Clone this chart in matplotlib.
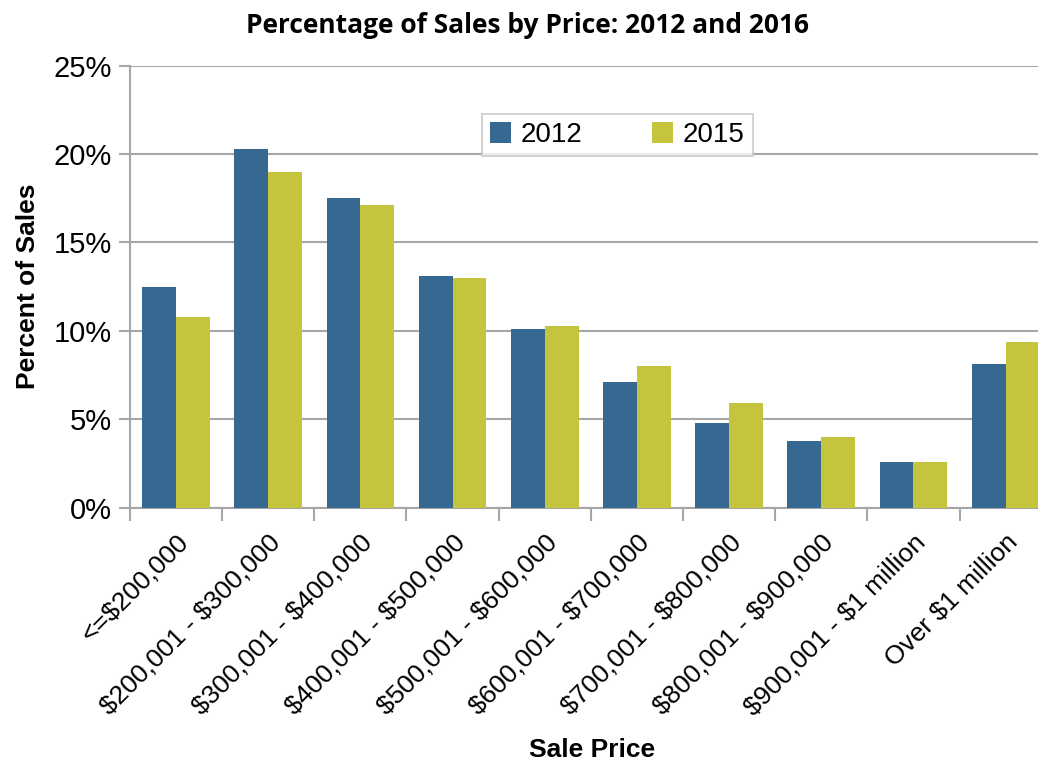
import matplotlib.pyplot as plt
import numpy as np
from matplotlib.ticker import PercentFormatter

plt.rcParams["text.parse_math"] = False

categories = ["<=$200,000", "$200,001 - $300,000", "$300,001 - $400,000",
              "$400,001 - $500,000", "$500,001 - $600,000", "$600,001 - $700,000",
              "$700,001 - $800,000", "$800,001 - $900,000", "$900,001 - $1 million",
              "Over $1 million"]
sales_2012 = [12.5, 20.3, 17.5, 13.1, 10.1, 7.1, 4.8, 3.8, 2.6, 8.1]
sales_2015 = [10.8, 19.0, 17.1, 13.0, 10.3, 8.0, 5.9, 4.0, 2.6, 9.4]

BLUE = "#376892"
GREEN = "#C4C43F"
GRID = "#A6A6A6"
NARROW = ["Liberation Sans Narrow", "Liberation Sans", "DejaVu Sans"]

fig = plt.figure(figsize=(10.38, 7.63), dpi=100)
ax = fig.add_axes([0.1252, 0.3346, 0.888, 0.5793])

x = np.arange(len(categories))
w = 0.367
ax.bar(x + 0.5 - w / 2, sales_2012, width=w, color=BLUE, label="2012", zorder=3)
ax.bar(x + 0.5 + w / 2, sales_2015, width=w, color=GREEN, label="2015", zorder=3)

ax.set_xlim(0, len(categories))
ax.set_ylim(0, 25)
ax.set_yticks([0, 5, 10, 15, 20, 25])
ax.yaxis.set_major_formatter(PercentFormatter(decimals=0))
ax.grid(axis="y", color=GRID, linewidth=1.5, zorder=0)
ax.set_axisbelow(True)

for s in ["top", "right"]:
    ax.spines[s].set_visible(False)
for s in ["left", "bottom"]:
    ax.spines[s].set_color(GRID)
    ax.spines[s].set_linewidth(1.5)

# ticks between categories on x, labels at the centres via minor ticks
ax.set_xticks(np.arange(len(categories) + 1))
ax.set_xticklabels([])
ax.set_xticks(x + 0.5, minor=True)
ax.set_xticklabels(categories, minor=True, rotation=45, ha="right",
                   rotation_mode="anchor", fontsize=19, family=NARROW)
ax.tick_params(axis="x", which="major", length=9, width=1.5, color=GRID, direction="out")
ax.tick_params(axis="x", which="minor", length=0, pad=16)
ax.tick_params(axis="y", length=8, width=1.5, color=GRID, pad=5)
for t in ax.get_yticklabels():
    t.set_fontsize(21)
    t.set_family(NARROW)

ax.set_ylabel("Percent of Sales", fontsize=19, fontweight="bold", family=NARROW, labelpad=10)
fig.text(0.570, 0.017, "Sale Price", ha="center", va="center", fontsize=19,
         fontweight="bold", family=NARROW)
fig.text(0.508, 0.967, "Percentage of Sales by Price: 2012 and 2016", ha="center",
         va="center", fontsize=19, fontweight="bold", family="Open Sans")

leg = ax.legend(loc="center", bbox_to_anchor=(0.529, 0.843), ncol=2, frameon=True,
                fancybox=False, prop={"family": NARROW, "size": 20},
                handlelength=0.75, handleheight=0.75, handletextpad=0.35,
                columnspacing=2.5, borderpad=0.3, borderaxespad=0)
leg.get_frame().set_edgecolor("#C8C8C8")
leg.get_frame().set_linewidth(1.5)

fig.savefig("out.png", dpi=100)
